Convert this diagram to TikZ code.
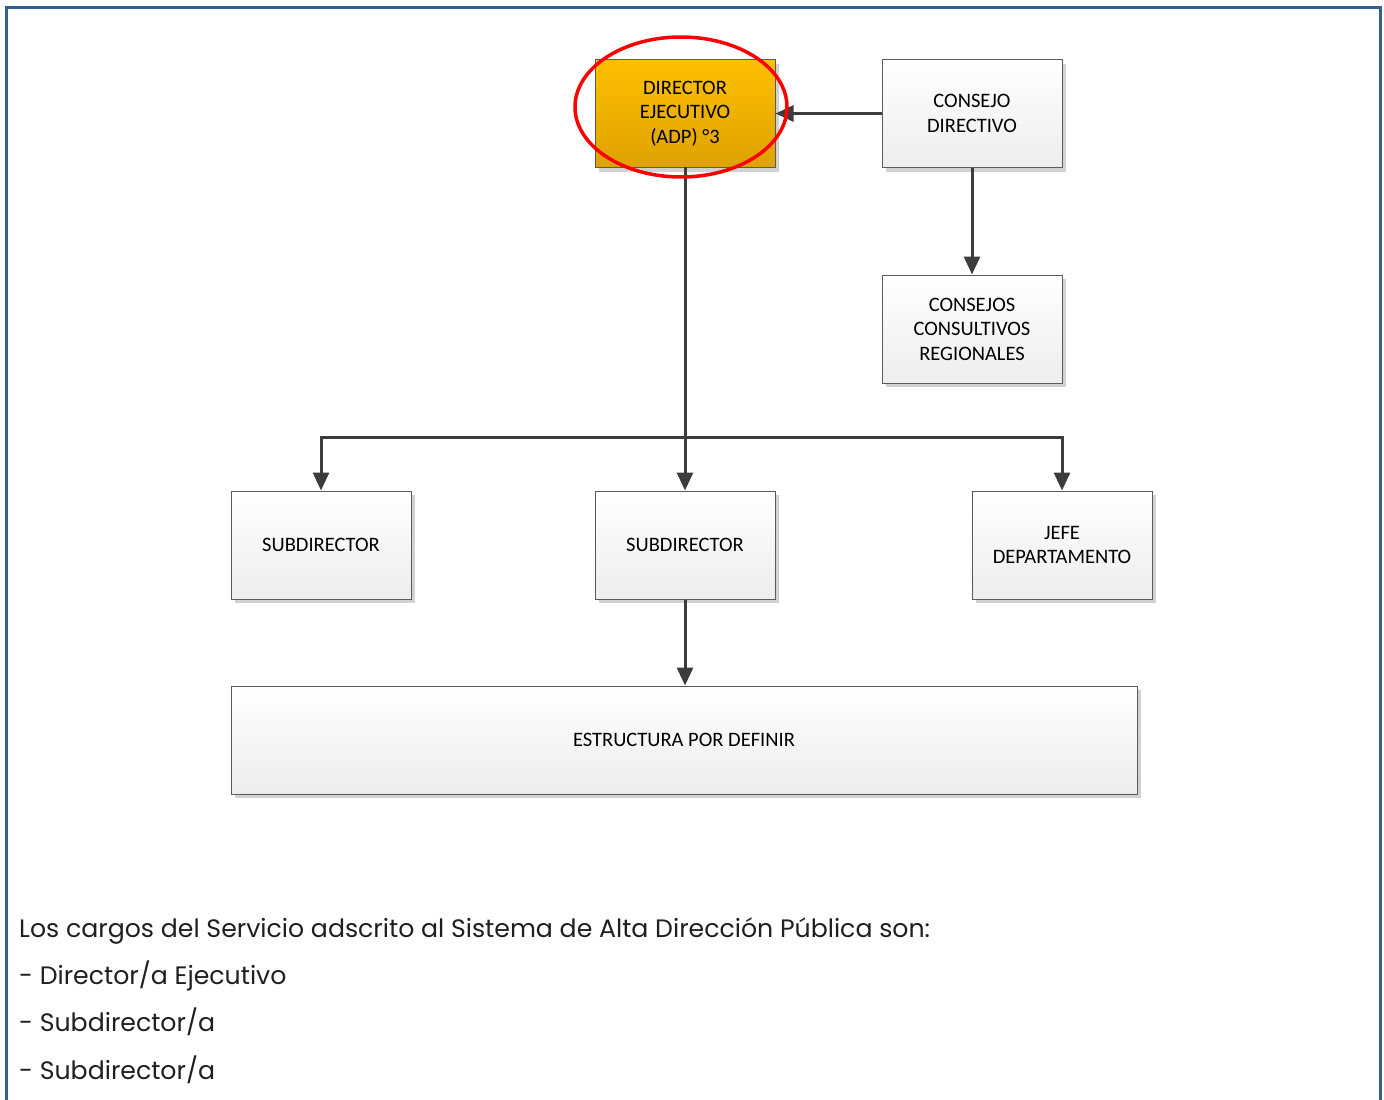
\documentclass[tikz,border=0pt]{standalone}
\usepackage{fontspec}
\setmainfont{Carlito}
\newfontfamily\gothic{Poppins}
\usetikzlibrary{arrows.meta,shadows,shapes.geometric}
\definecolor{frameblue}{HTML}{365F91}
\definecolor{linegray}{HTML}{3C3C3C}
\definecolor{boxedge}{HTML}{5A5A5A}
\definecolor{goldtop}{HTML}{FFC000}
\definecolor{goldbot}{HTML}{DDA200}
\tikzset{
  x=1pt,y=-1pt,
  orgbox/.style={draw=boxedge, line width=1pt, top color=white, bottom color=black!7,
    minimum width=180pt, minimum height=108pt, align=center, inner sep=0pt,
    font=\fontsize{20.5}{24.5}\selectfont,
    drop shadow={shadow xshift=4pt, shadow yshift=-4pt, fill=black!18, opacity=1}},
  goldbox/.style={orgbox, top color=goldtop, bottom color=goldbot},
  conn/.style={draw=linegray, line width=3pt, -{Triangle[width=16pt,length=18pt]}},
  plain/.style={draw=linegray, line width=3pt, line cap=rect},
  bodytext/.style={anchor=base west, inner sep=0pt, font=\gothic\fontsize{25.2}{28}\selectfont, text=black!88},
}
\begin{document}
\begin{tikzpicture}
\useasboundingbox (0,0) rectangle (1384,1100);
% frame
\draw[frameblue, line width=3pt] (6.5,1100) -- (6.5,7) -- (1380.5,7) -- (1380.5,1100);
% boxes
\node[goldbox] (dir) at (685,113.5) {DIRECTOR\\EJECUTIVO\\(ADP) °3};
\node[orgbox] (cd) at (972,113.5) {CONSEJO\\DIRECTIVO};
\node[orgbox] (ccr) at (972,329) {CONSEJOS\\CONSULTIVOS\\REGIONALES};
\node[orgbox] (s1) at (321,545) {SUBDIRECTOR};
\node[orgbox] (s2) at (685,545) {SUBDIRECTOR};
\node[orgbox] (jefe) at (1062,545) {JEFE\\DEPARTAMENTO};
\node[orgbox, minimum width=906pt] (est) at (684,740) {ESTRUCTURA POR DEFINIR};
% connectors
\coordinate (bus) at (685,437);
\coordinate (busL) at (321,437);
\coordinate (busR) at (1062,437);
\draw[conn] (cd.west) -- (dir.east);
\draw[conn] (cd.south) -- (ccr.north);
\draw[plain] (dir.south) -- (bus);
\draw[plain] (busL) -- (busR);
\draw[conn] (bus) -- (s2.north);
\draw[conn] (busL) -- (s1.north);
\draw[conn] (busR) -- (jefe.north);
\draw[conn] (s2.south) -- (est.north -| s2.south);
% red ellipse
\node[draw=red, line width=3.5pt, ellipse, minimum width=212pt, minimum height=140pt, inner sep=0pt] (mark) at (681,107) {};
% text
\node[bodytext] (t1) at (19,937) {Los cargos del Servicio adscrito al Sistema de Alta Dirección Pública son:};
\node[bodytext] (t2) at (19,984) {- Director/a Ejecutivo};
\node[bodytext] (t3) at (19,1031) {- Subdirector/a};
\node[bodytext] (t4) at (19,1079) {- Subdirector/a};
\end{tikzpicture}
\end{document}
